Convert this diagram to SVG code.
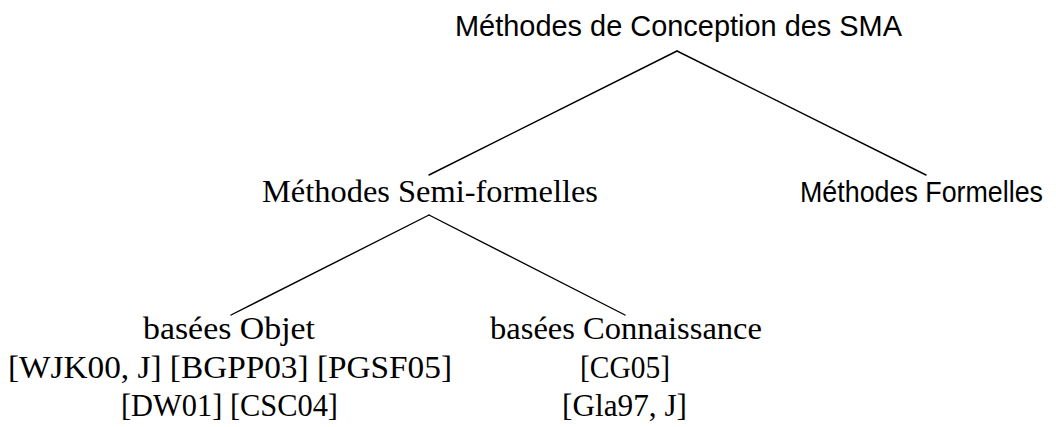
<svg xmlns="http://www.w3.org/2000/svg" width="1056" height="427" viewBox="0 0 1056 427">
  <style>
    .sans { font-family: "Liberation Sans", Arial, sans-serif; font-size: 29px; fill: #000; }
    .serif { font-family: "Liberation Serif", "Times New Roman", serif; font-size: 31px; fill: #000; }
    .edge { stroke: #000; stroke-width: 1.4; fill: none; stroke-linecap: round; }
  </style>
  <rect width="1056" height="427" fill="#fff"/>
  <!-- tree edges -->
  <g id="connectors">
    <line class="edge" x1="677" y1="51" x2="429" y2="175"/>
    <line class="edge" x1="677" y1="51" x2="926" y2="175"/>
    <line class="edge" x1="429" y1="215" x2="231" y2="315"/>
    <line class="edge" x1="429" y1="215" x2="625" y2="315"/>
  </g>
  <g id="root">
    <text class="sans" x="455" y="36" textLength="447" lengthAdjust="spacingAndGlyphs">Méthodes de Conception des SMA</text>
  </g>
  <g id="semi-formelles">
    <text class="serif" x="262" y="202" textLength="336" lengthAdjust="spacingAndGlyphs">Méthodes Semi-formelles</text>
  </g>
  <g id="formelles">
    <text class="sans" x="1043" y="202" text-anchor="end" textLength="243" lengthAdjust="spacingAndGlyphs">Méthodes Formelles</text>
  </g>
  <g id="objet">
    <text class="serif" x="143" y="339" textLength="172" lengthAdjust="spacingAndGlyphs">basées Objet</text>
    <text class="serif" x="8" y="378" textLength="444" lengthAdjust="spacingAndGlyphs">[WJK00, J] [BGPP03] [PGSF05]</text>
    <text class="serif" x="121" y="416" textLength="217" lengthAdjust="spacingAndGlyphs">[DW01] [CSC04]</text>
  </g>
  <g id="connaissance">
    <text class="serif" x="490" y="339" textLength="272" lengthAdjust="spacingAndGlyphs">basées Connaissance</text>
    <text class="serif" x="580" y="378" textLength="90" lengthAdjust="spacingAndGlyphs">[CG05]</text>
    <text class="serif" x="562" y="416" textLength="125" lengthAdjust="spacingAndGlyphs">[Gla97, J]</text>
  </g>
</svg>
